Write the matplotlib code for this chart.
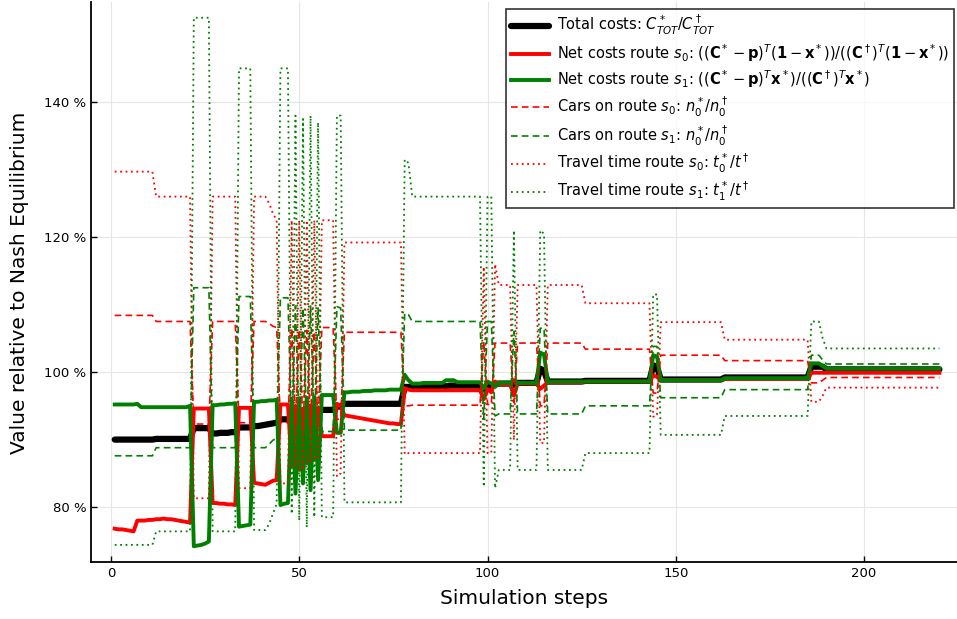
import matplotlib
matplotlib.use("Agg")
import matplotlib.pyplot as plt
import numpy as np

# simulation steps 1..220, values in percent of the Nash equilibrium
steps = list(range(1, 221))

total_costs = sum([
    [90.0]*11, [90.1]*10, [91.7]*5,
    [90.9, 90.9, 91.0, 91.0, 91.0, 91.1, 91.1], [91.8]*4,
    [92.0, 92.0, 92.1, 92.2, 92.3, 92.4, 92.5], [93.0]*3,
    [93.3, 93.6, 93.5, 93.8, 93.8, 94.0, 94.1, 94.3], [94.4]*4, [94.9]*2,
    [95.3]*16, [97.8]*2, [97.9]*10 + [98.0]*9,
    [97.5, 98.0, 97.8, 98.2], [98.3]*4, [98.1], [98.4]*6, [100.5, 100.2],
    [98.6]*10, [98.7]*18, [101.0, 100.8, 98.9], [98.9]*16, [99.2]*23,
    [100.8]*4, [100.4]*31], [])

net_s0 = sum([
    [76.8, 76.7, 76.7, 76.6, 76.5, 76.4, 78.0, 78.0, 78.0, 78.1, 78.1],
    [78.2, 78.2, 78.3, 78.2, 78.2, 78.1, 78.0, 77.9, 77.8, 77.7], [94.6]*5,
    [80.6, 80.6, 80.5, 80.5, 80.4, 80.4, 80.3], [94.7]*4,
    [83.6, 83.5, 83.4, 83.3, 83.6, 83.9, 84.0], [95.2]*3,
    [86.0, 95.0, 85.5, 94.5, 86.5, 95.0, 87.0, 94.8], [90.5]*4, [95.3, 95.0],
    [93.6, 93.5, 93.4, 93.3, 93.2, 93.1, 93.0, 92.9, 92.8, 92.7, 92.6, 92.5,
     92.4, 92.4, 92.3, 92.3], [97.6, 97.4], [97.3]*19,
    [96.0, 97.5, 97.0, 98.6], [98.2]*4, [96.5], [98.3]*6, [97.5, 98.0],
    [98.5]*10, [98.6]*18, [99.5, 99.3, 98.8], [98.8]*16, [99.0]*23,
    [99.9]*4, [99.9]*31], [])

net_s1 = sum([
    [95.2]*6 + [95.3] + [94.8]*4, [94.8]*9 + [95.0],
    [74.2, 74.3, 74.4, 74.6, 74.9],
    [95.1, 95.1, 95.2, 95.2, 95.3, 95.3, 95.4], [77.1, 77.2, 77.3, 77.4],
    [95.6, 95.6, 95.7, 95.7, 95.8, 95.8, 95.9], [80.3, 80.5, 80.6],
    [96.0, 82.0, 96.1, 83.5, 96.2, 82.5, 96.3, 84.0], [96.6]*4, [91.0]*2,
    [97.0, 97.0, 97.1, 97.1, 97.1, 97.2, 97.2, 97.2, 97.3, 97.3, 97.3, 97.3,
     97.4, 97.4, 97.4, 97.4], [99.6, 98.8],
    [98.3]*3 + [98.4]*6 + [98.8]*3 + [98.5]*7,
    [97.6, 98.6, 98.3, 97.8], [98.4]*4, [98.8], [98.4]*6, [102.9, 102.6],
    [98.6]*10, [98.6]*18, [102.5, 102.3, 98.8], [98.8]*16, [99.1]*23,
    [101.3, 101.3, 101.3, 100.9], [100.5]*31], [])

cars_s0 = sum([
    [108.4]*11, [107.5]*10, [92.3]*5, [107.5]*7, [92.5]*4,
    [107.5]*4 + [107.2, 106.8, 106.6], [92.5]*3,
    [106.5, 92.0, 106.3, 91.5, 106.2, 92.0, 106.0, 91.8], [106.6]*4, [93.0]*2,
    [105.9]*16, [95.0]*2, [95.1]*19,
    [104.5, 95.2, 95.2, 104.3], [104.3]*4, [95.5], [104.3]*6, [95.0]*2,
    [104.3]*10, [103.4]*18, [96.9, 96.9, 102.5], [102.5]*16, [101.7]*23,
    [98.4, 98.4, 98.4, 98.8], [99.2]*31], [])

cars_s1 = sum([
    [87.6]*11, [88.8]*10, [112.5]*5, [88.8]*7, [111.2]*4,
    [88.8]*4 + [89.3, 89.9, 90.2], [111.0]*3,
    [90.5, 109.8, 90.8, 109.5, 91.0, 109.8, 91.2, 109.5], [91.2]*4,
    [109.7, 109.5], [91.4]*16, [108.7, 108.5], [107.5]*19,
    [93.0, 107.5, 107.5, 93.5], [93.8]*4, [106.0], [93.8]*6, [106.5]*2,
    [93.8]*10, [95.0]*18, [103.8, 103.8, 96.2], [96.2]*16, [97.4]*23,
    [102.5, 102.5, 102.5, 101.8], [101.2]*31], [])

time_s0 = sum([
    [129.7]*11, [126.0]*10, [81.3]*5, [126.0]*7, [82.8]*4,
    [126.0]*4 + [125.0, 123.5, 122.5], [83.5]*3,
    [122.5, 86.0, 122.5, 85.5, 122.5, 86.5, 122.5, 87.0], [122.5]*4,
    [84.5, 85.0], [119.2]*16, [87.8, 88.0], [88.0]*19,
    [115.6, 88.0, 88.0, 116.0], [112.9]*4, [89.9], [112.9]*6, [89.5]*2,
    [112.9]*10, [110.2]*18, [93.4, 93.5, 107.4], [107.4]*16, [104.8]*23,
    [95.6, 95.6, 95.6, 96.5], [97.7]*31], [])

time_s1 = sum([
    [74.4]*11, [76.4]*10, [152.5]*5, [76.4]*7, [145.0]*4,
    [76.6]*4 + [77.5, 79.0, 80.5], [145.0]*3,
    [79.0, 138.0, 78.0, 137.5, 77.0, 138.0, 78.5, 137.0], [78.5]*4,
    [138.0]*2, [80.7]*16, [131.5, 131.0], [126.0]*19,
    [83.0, 126.0, 126.0, 82.8], [85.5]*4, [121.0], [85.5]*6, [121.0, 120.5],
    [85.5]*10, [88.0]*18, [111.5, 111.5, 90.7], [90.7]*16, [93.5]*23,
    [107.5, 107.5, 107.5, 105.0], [103.5]*31], [])

labels = [
    r"Total costs: $C^*_{TOT}/C^\dagger_{TOT}$",
    r"Net costs route $s_0$: $((\mathbf{C}^* - \mathbf{p})^T(\mathbf{1} - \mathbf{x}^*))/((\mathbf{C}^\dagger)^T(\mathbf{1} - \mathbf{x}^*))$",
    r"Net costs route $s_1$: $((\mathbf{C}^* - \mathbf{p})^T\mathbf{x}^*)/((\mathbf{C}^\dagger)^T\mathbf{x}^*)$",
    r"Cars on route $s_0$: $n_0^*/n_0^\dagger$",
    r"Cars on route $s_1$: $n_0^*/n_0^\dagger$",
    r"Travel time route $s_0$: $t_0^*/t^\dagger$",
    r"Travel time route $s_1$: $t_1^*/t^\dagger$",
]

plt.rcParams['font.family'] = ['DejaVu Sans']
plt.rcParams['mathtext.fontset'] = 'dejavusans'

fig = plt.figure(figsize=(9.57, 6.19), dpi=100)
ax = fig.add_axes([0.0951, 0.0914, 0.905, 0.905])

dot = (0, (1, 2))
dash = (0, (4, 2.5))
ax.plot(steps, total_costs, color='black', lw=4.5, label=labels[0], solid_capstyle='round')
ax.plot(steps, net_s0, color='red', lw=2.8, label=labels[1])
ax.plot(steps, net_s1, color='green', lw=2.8, label=labels[2])
ax.plot(steps, cars_s0, color='red', lw=1.2, ls=dash, label=labels[3])
ax.plot(steps, cars_s1, color='green', lw=1.2, ls=dash, label=labels[4])
ax.plot(steps, time_s0, color='red', lw=1.3, ls=dot, label=labels[5])
ax.plot(steps, time_s1, color='green', lw=1.3, ls=dot, label=labels[6])

ax.set_xlim(-5.3, 224.7)
ax.set_ylim(71.8, 154.8)
ax.set_xticks([0, 50, 100, 150, 200])
ax.set_yticks([80, 100, 120, 140])
ax.set_yticklabels(["80 %", "100 %", "120 %", "140 %"])
ax.tick_params(direction='in', length=4, width=1, labelsize=9.5)
ax.grid(True, color='#e6e6e6', lw=0.8)
ax.set_axisbelow(True)
for s in ['top', 'right']:
    ax.spines[s].set_visible(False)
for s in ['left', 'bottom']:
    ax.spines[s].set_linewidth(1.3)

ax.set_xlabel("Simulation steps", fontsize=14.5, labelpad=6)
ax.set_ylabel("Value relative to Nash Equilibrium", fontsize=14.5, labelpad=11)

leg = ax.legend(loc='upper right', bbox_to_anchor=(1.0, 0.993), fontsize=10.5,
                frameon=True, fancybox=False, edgecolor='black',
                handlelength=2.6, handletextpad=0.6, labelspacing=0.32,
                borderpad=0.3, borderaxespad=0.2)
leg.get_frame().set_linewidth(1.2)

plt.savefig("out.png", dpi=100)
